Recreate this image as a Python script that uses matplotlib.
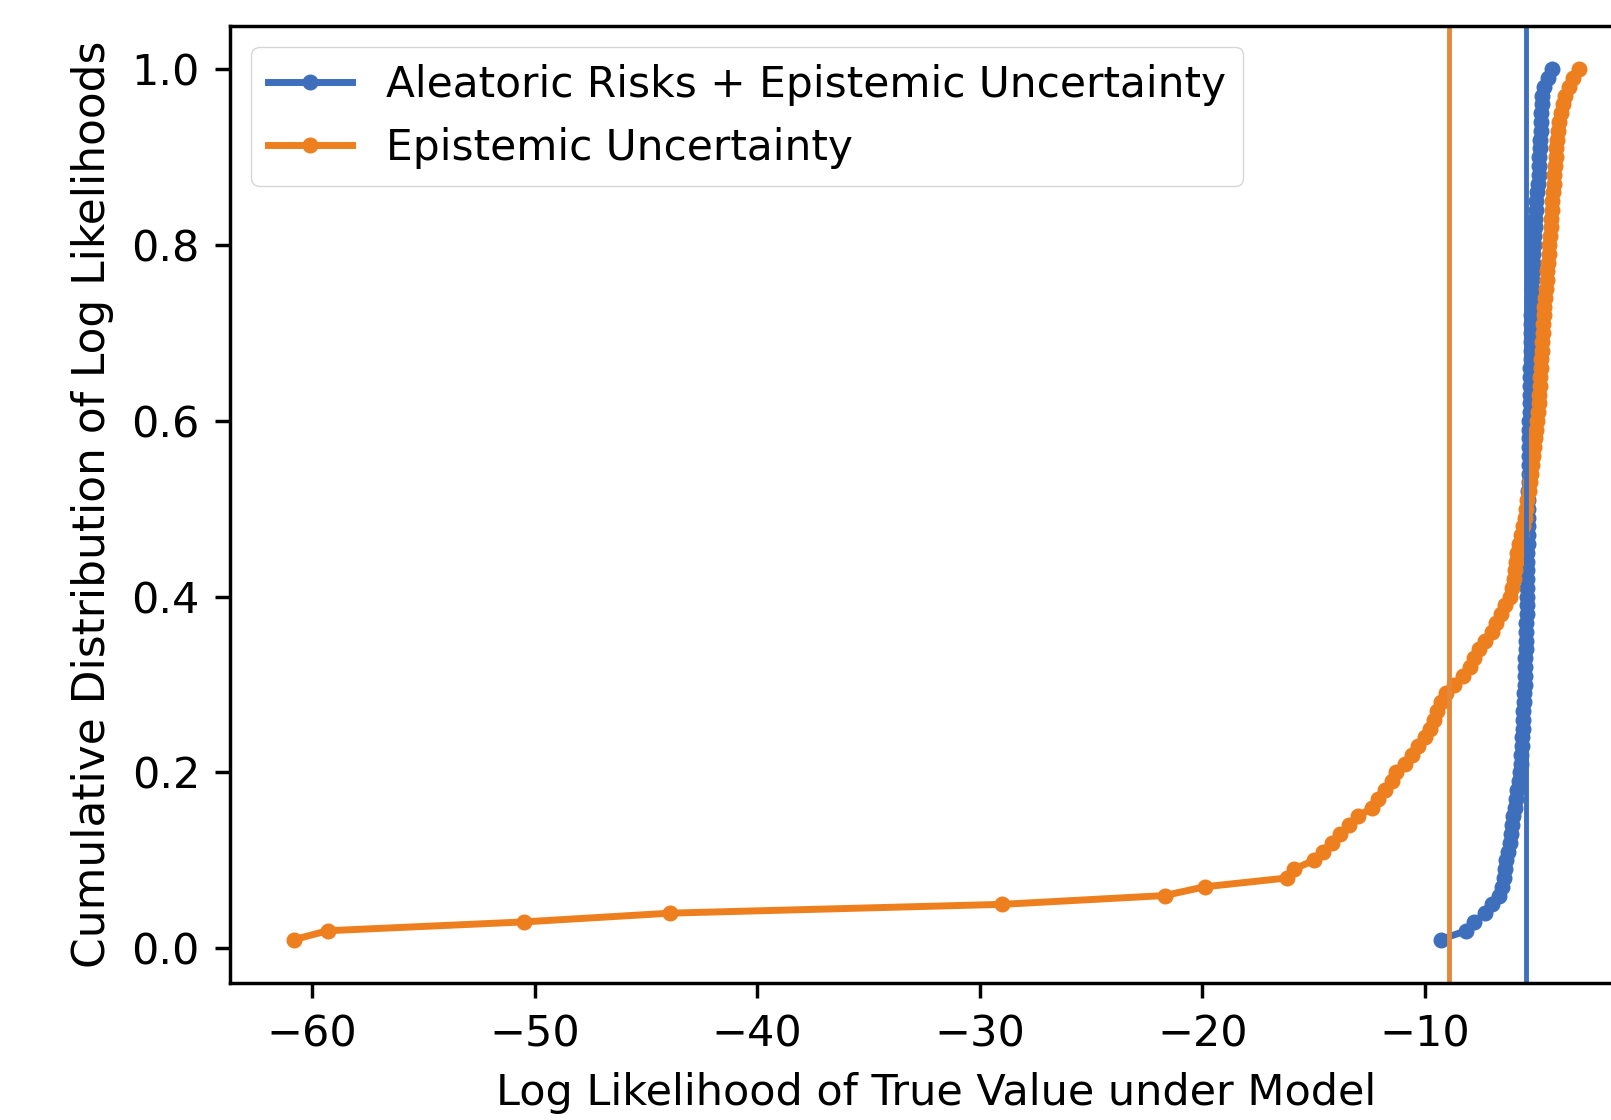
import matplotlib
matplotlib.use("AGG")
import matplotlib.pyplot as plt
import numpy as np

# log likelihood of the true value, one entry per test point
ll_total = [
    -9.3, -8.15, -7.8, -7.3, -7.0, -6.7, -6.55, -6.45, -6.4, -6.35,
    -6.28, -6.2, -6.14, -6.09, -6.03, -5.97, -5.93, -5.88, -5.8, -5.75,
    -5.71, -5.68, -5.66, -5.64, -5.62, -5.6, -5.58, -5.56, -5.54, -5.52,
    -5.51, -5.5, -5.49, -5.48, -5.47, -5.46, -5.45, -5.44, -5.43, -5.43,
    -5.42, -5.41, -5.41, -5.4, -5.4, -5.39, -5.39, -5.38, -5.37, -5.37,
    -5.36, -5.36, -5.35, -5.35, -5.34, -5.33, -5.33, -5.32, -5.31, -5.31,
    -5.3, -5.3, -5.29, -5.28, -5.28, -5.27, -5.26, -5.25, -5.25, -5.24,
    -5.23, -5.22, -5.21, -5.2, -5.2, -5.18, -5.16, -5.15, -5.13, -5.12,
    -5.1, -5.08, -5.05, -5.03, -5.0, -4.96, -4.93, -4.9, -4.88, -4.86,
    -4.84, -4.82, -4.8, -4.79, -4.78, -4.76, -4.73, -4.65, -4.5, -4.29,
]
ll_epistemic = [
    -60.8, -59.3, -50.5, -43.9, -29.0, -21.7, -19.9, -16.2, -15.9, -15.0,
    -14.6, -14.2, -13.8, -13.4, -13.0, -12.4, -12.1, -11.8, -11.5, -11.3,
    -10.9, -10.6, -10.3, -10.0, -9.8, -9.6, -9.45, -9.3, -9.05, -8.7,
    -8.3, -8.0, -7.8, -7.6, -7.3, -7.0, -6.8, -6.6, -6.4, -6.2,
    -6.1, -6.0, -5.95, -5.9, -5.85, -5.8, -5.7, -5.6, -5.5, -5.45,
    -5.4, -5.35, -5.3, -5.25, -5.2, -5.15, -5.1, -5.05, -5.0, -4.98,
    -4.94, -4.9, -4.87, -4.84, -4.82, -4.8, -4.78, -4.76, -4.74, -4.72,
    -4.7, -4.67, -4.64, -4.6, -4.57, -4.54, -4.51, -4.48, -4.45, -4.42,
    -4.39, -4.36, -4.33, -4.3, -4.28, -4.26, -4.23, -4.2, -4.17, -4.14,
    -4.11, -4.08, -4.04, -4.0, -3.9, -3.8, -3.7, -3.55, -3.35, -3.1,
]
mean_total = -5.46
mean_epistemic = -8.92

labels = ["Aleatoric Risks + Epistemic Uncertainty", "Epistemic Uncertainty"]
colors = ["#3d6fbd", "#ee7f1f"]

s = 3.1  # scale everything up from the default 10pt look
plt.rcParams.update({
    "font.size": 10 * s,
    "axes.linewidth": 0.8 * s,
    "axes.labelpad": 4 * s,
    "xtick.major.width": 0.8 * s,
    "ytick.major.width": 0.8 * s,
    "xtick.major.size": 3.5 * s,
    "ytick.major.size": 3.5 * s,
    "xtick.major.pad": 3.5 * s,
    "ytick.major.pad": 3.5 * s,
})

fig = plt.figure(figsize=(16.11, 11.2), dpi=100)
ax = fig.add_axes([0.1428, 0.1223, 0.877, 0.8547])

for data, lab, c in zip([ll_total, ll_epistemic], labels, colors):
    xs = np.sort(data)
    ys = np.arange(1, len(xs) + 1) / len(xs)
    ax.plot(xs, ys, ".-", color=c, label=lab, lw=5, ms=21)

ax.axvline(mean_total, color=colors[0], lw=3.5)
ax.axvline(mean_epistemic, color="#e4883a", lw=3.5)

ax.set_xlabel("Log Likelihood of True Value under Model")
ax.set_ylabel("Cumulative Distribution of Log Likelihoods", fontsize=10 * s * 1.02)
ax.legend(loc="upper left", borderaxespad=0.5, fontsize=10 * s * 0.98)

fig.savefig("out.png", dpi=100)
